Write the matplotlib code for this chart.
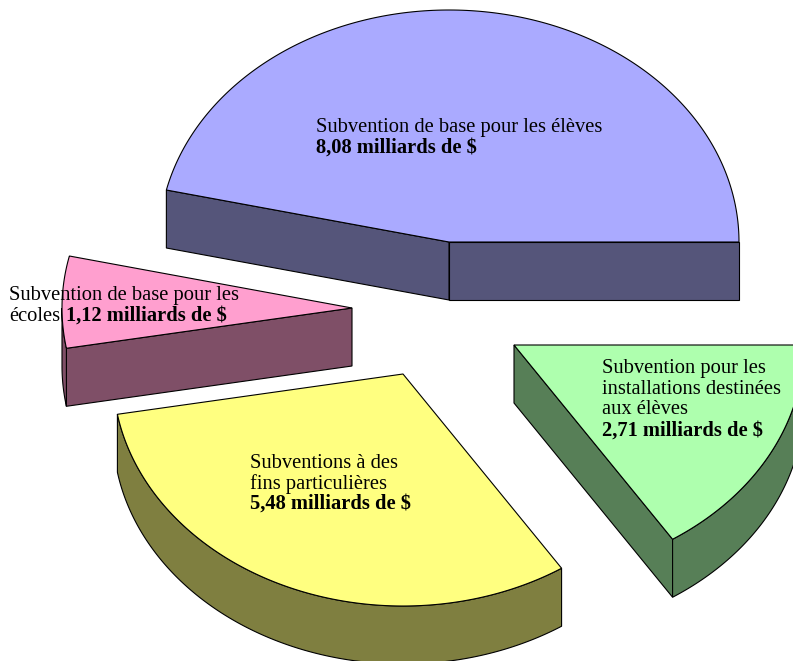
import numpy as np
import matplotlib
matplotlib.use("Agg")
import matplotlib.pyplot as plt
from matplotlib.patches import Polygon

# Data, in the order the slices run counter-clockwise from the right
names = ["Subvention de base pour les élèves",
         "Subvention de base pour les écoles",
         "Subventions à des fins particulières",
         "Subvention pour les installations destinées aux élèves"]
value_labels = ["8,08 milliards de $", "1,12 milliards de $",
                "5,48 milliards de $", "2,71 milliards de $"]
# Slice sweeps in degrees
sweeps = [167.05, 22.95, 113.15, 56.85]

# Styles and layout
top_colors = ["#AAAAFF", "#FF9FCF", "#FFFF80", "#AEFFAE"]
side_colors = ["#55557A", "#7F4F67", "#7F7F40", "#577F57"]
centers = [(449, 242), (352, 308), (403, 374), (514, 345)]
RX, RY, DEPTH = 290, 232, 58
LW = 0.8

W, H = 793, 661
fig = plt.figure(figsize=(W / 100, H / 100), dpi=100)
ax = fig.add_axes([0, 0, 1, 1])
ax.set_xlim(0, W)
ax.set_ylim(H, 0)
ax.axis("off")


def rim(c, a0, a1, n=200):
    t = np.radians(np.linspace(a0, a1, n))
    return np.column_stack([c[0] + RX * np.cos(t), c[1] - RY * np.sin(t)])


def face(points, color):
    """Extrude a line of points downward into a side face."""
    low = points + [0, DEPTH]
    ax.add_patch(Polygon(np.vstack([points, low[::-1]]), closed=True,
                         fc=color, ec="black", lw=LW, joinstyle="miter"))


edges = np.cumsum([0] + sweeps)
for i in range(len(sweeps)):
    a0, a1 = edges[i], edges[i + 1]
    c = centers[i]
    centre = np.array([c])
    if np.cos(np.radians(a0)) > 0:
        face(np.vstack([centre, rim(c, a0, a0, 1)]), side_colors[i])
    if np.cos(np.radians(a1)) < 0:
        face(np.vstack([centre, rim(c, a1, a1, 1)]), side_colors[i])
    lo, hi = max(a0, 180), min(a1, 360)
    if hi > lo:
        face(rim(c, lo, hi), side_colors[i])
    ax.add_patch(Polygon(np.vstack([centre, rim(c, a0, a1)]), closed=True,
                         fc=top_colors[i], ec="black", lw=LW, joinstyle="miter"))

FS = 14.75
kw = dict(family="Liberation Serif", fontsize=FS, color="black", va="baseline", ha="left")
bold = dict(kw, fontweight="bold")

# Blue
ax.text(316.5, 132, "Subvention de base pour les élèves", **kw)
ax.text(316.5, 152.5, value_labels[0], **bold)
# Pink
ax.text(9, 300, "Subvention de base pour les", **kw)
ax.text(9, 321, "écoles", **kw)
ax.text(66, 321, value_labels[1], **bold)
# Yellow
ax.text(250.5, 468, "Subventions à des", **kw)
ax.text(250.5, 488.5, "fins particulières", **kw)
ax.text(250.5, 509, value_labels[2], **bold)
# Green
ax.text(601.5, 373, "Subvention pour les", **kw)
ax.text(601.5, 394, "installations destinées", **kw)
ax.text(601.5, 414.5, "aux élèves", **kw)
ax.text(601.5, 435.5, value_labels[3], **bold)

fig.savefig("out.png", dpi=100, facecolor="white")
